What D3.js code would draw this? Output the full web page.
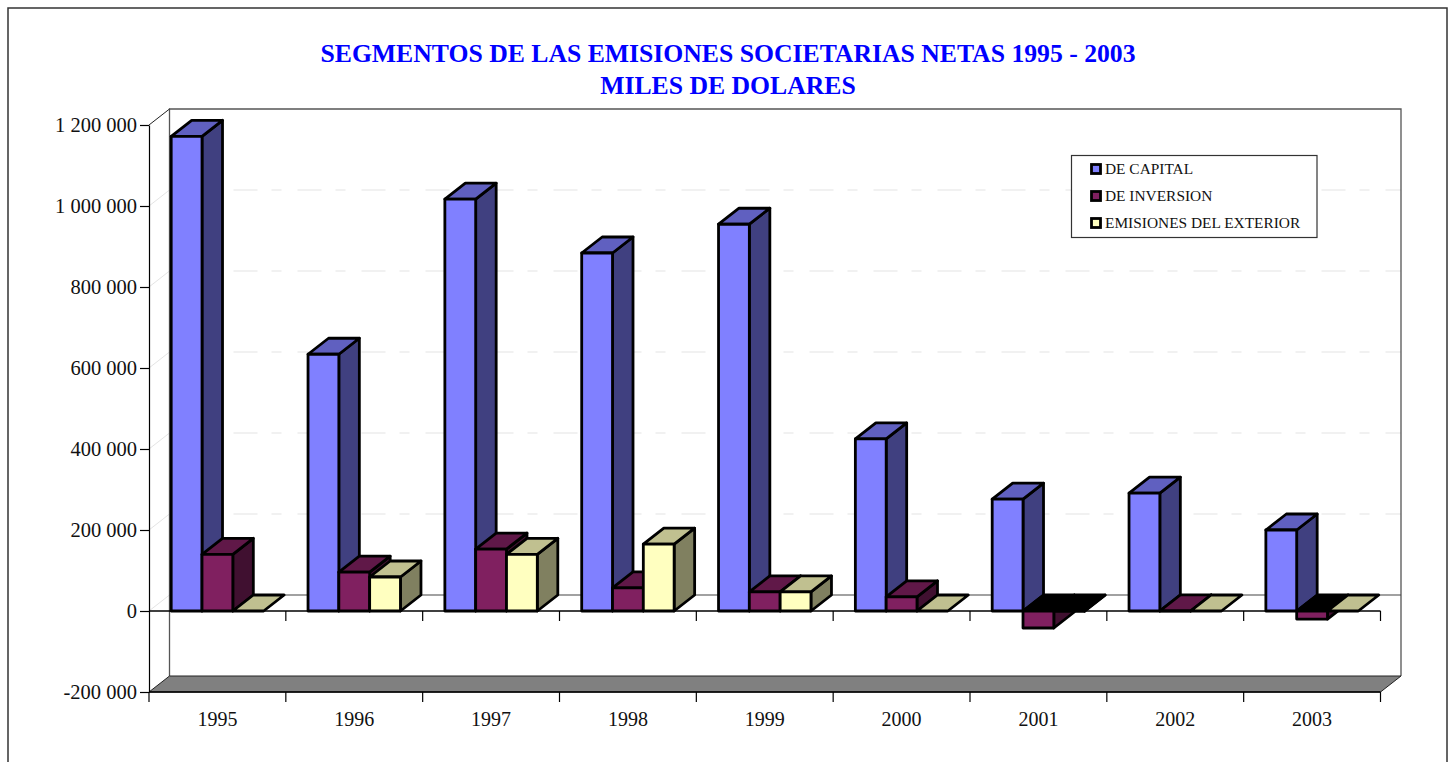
<!DOCTYPE html>
<html><head><meta charset="utf-8">
<script src="https://cdnjs.cloudflare.com/ajax/libs/d3/7.8.5/d3.min.js"></script>
<style>html,body{margin:0;padding:0;background:#fff}svg{display:block}text{font-family:"Liberation Serif",serif}</style>
</head><body><svg id="c" width="1453" height="762"></svg>
<script>
const years = ["1995","1996","1997","1998","1999","2000","2001","2002","2003"];
const serieNames = ["DE CAPITAL","DE INVERSION","EMISIONES DEL EXTERIOR"];
const deCapital = [1172000,634000,1017000,884000,955000,425000,276000,291000,200000];
const deInversion = [140000,96000,153000,57000,47000,35000,-42000,500,-20000];
const emisionesExterior = [0,84000,140000,165000,47000,0,-500,0,0];
const yTicks = [-200000,0,200000,400000,600000,800000,1000000,1200000];
const titleLines = ["SEGMENTOS DE LAS EMISIONES SOCIETARIAS NETAS 1995 - 2003","MILES DE DOLARES"];
const seriesValues = [deCapital,deInversion,emisionesExterior];
const frontColors = ["#8080ff","#802060","#ffffc0"];
const topColors = ["#6060c0","#601848","#c0c090"];
const sideColors = ["#404080","#401030","#808060"];

const svg = d3.select("#c");
const dx = 20.5, dy = -16;
const L = 149, R = 1380.5;
const y = d3.scaleLinear().domain([-200000,1200000]).range([692,125]);
const x = d3.scaleBand().domain(years).range([L,R]);
const xs = d3.scaleBand().domain([0,1,2]).range([22.2,x.bandwidth()-22.2]);
const fmt = v => d3.format(",")(v).replace(/,/g," ").replace("\u2212","-");
const poly = (pts,fill,stroke,sw) => svg.append("polygon").attr("points",pts.map(p=>p.join(",")).join(" "))
  .attr("fill",fill).attr("stroke",stroke).attr("stroke-width",sw).attr("stroke-linejoin","round");
const line = (x1,y1,x2,y2,c,w,dash) => svg.append("line").attr("x1",x1).attr("y1",y1).attr("x2",x2).attr("y2",y2)
  .attr("stroke",c).attr("stroke-width",w).attr("stroke-dasharray",dash||null);

// outer frame
svg.append("rect").attr("x",8).attr("y",8).attr("width",1439).attr("height",800).attr("fill","#fff").attr("stroke","#333").attr("stroke-width",1.5);

// title
titleLines.forEach((t,i)=>svg.append("text").attr("x",728).attr("y",62+i*32).attr("text-anchor","middle")
  .attr("font-size",25.7).attr("font-weight","bold").attr("fill","#0000ff").text(t));

// grid on walls
yTicks.filter(v=>v>0&&v<1200000).forEach(v=>{
  line(L,y(v),L+dx,y(v)+dy,"#e4e4e4",1);
  line(L+dx,y(v)+dy,R+dx,y(v)+dy,"#e4e4e4",1.2,"24 14 10 16");
});
line(L,y(0),L+dx,y(0)+dy,"#e4e4e4",1);
// back wall
svg.append("path").attr("d",`M${L+dx},${y(-200000)+dy}V${y(1200000)+dy}H${R+dx}V${y(-200000)+dy}`).attr("fill","none").attr("stroke","#555").attr("stroke-width",1.3);
line(L+dx,y(0)+dy,R+dx,y(0)+dy,"#444",1.2);
line(L,y(1200000),L+dx,y(1200000)+dy,"#222",1);
// floor
poly([[L,y(-200000)],[L+dx,y(-200000)+dy],[R+dx,y(-200000)+dy],[R,y(-200000)]],"#808080","#222",1);

// axes
const yAxis = d3.axisLeft(y).tickValues(yTicks).tickFormat(fmt).tickSize(9).tickSizeOuter(0).tickPadding(3);
const ga = svg.append("g").attr("transform",`translate(${L},0)`).call(yAxis);
ga.selectAll("text").attr("font-size",20.5).attr("fill","#111").attr("font-family","Liberation Serif");
ga.selectAll("line").attr("stroke","#000").attr("stroke-width",1.2);
ga.select(".domain").attr("stroke","#000").attr("stroke-width",1.2);
// category axes: at zero and at the bottom
const edges = years.map(c=>x(c)).concat([R]);
line(L,y(0),R,y(0),"#000",1.3);
line(L,y(-200000),R,y(-200000),"#000",1.3);
edges.forEach((e,i)=>{
  if(i>0) line(e,y(0),e,y(0)+10,"#000",1.2);
  line(e,y(-200000),e,y(-200000)+10,"#000",1.2);
});
years.forEach(c=>svg.append("text").attr("x",x(c)+x.bandwidth()/2).attr("y",726).attr("text-anchor","middle")
  .attr("font-size",20).attr("fill","#111").text(c));

// bars
const sw = 2.8;
years.forEach((c,i)=>{
  seriesValues.forEach((vals,s)=>{
    const v = vals[i], x0 = x(c)+xs(s), x1 = x0+xs.bandwidth();
    const yT = y(Math.max(v,0)), yB = y(Math.min(v,0));
    if(yB>yT) poly([[x1,yT],[x1+dx,yT+dy],[x1+dx,yB+dy],[x1,yB]],sideColors[s],"#000",sw);
    poly([[x0,yT],[x1,yT],[x1+dx,yT+dy],[x0+dx,yT+dy]],v<0?"#000":topColors[s],"#000",sw);
    if(yB>yT) poly([[x0,yT],[x1,yT],[x1,yB],[x0,yB]],frontColors[s],"#000",sw);
  });
});

// legend
svg.append("rect").attr("x",1071.5).attr("y",155.5).attr("width",245.5).attr("height",82).attr("fill","#fff").attr("stroke","#333").attr("stroke-width",1.2);
serieNames.forEach((n,i)=>{
  const cy = 169+i*27;
  svg.append("rect").attr("x",1091.5).attr("y",cy-4.5).attr("width",9).attr("height",9).attr("fill",frontColors[i]).attr("stroke","#000").attr("stroke-width",2.8);
  svg.append("text").attr("x",1105).attr("y",cy+5).attr("font-size",15.4).attr("fill","#111").text(n);
});
</script></body></html>
